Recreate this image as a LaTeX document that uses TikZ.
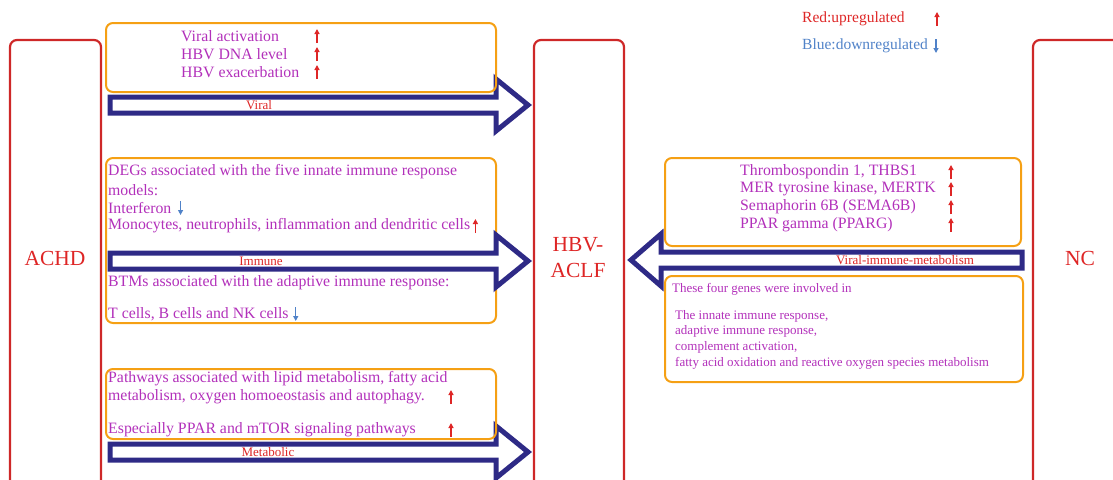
\documentclass[tikz,border=0pt]{standalone}
\usepackage{fontspec}
\setmainfont{Liberation Serif}
\usepackage{xcolor}
\usetikzlibrary{arrows.meta,positioning}
\definecolor{rojo}{RGB}{222,38,38}
\definecolor{caja}{RGB}{206,40,40}
\definecolor{naranja}{RGB}{245,160,20}
\definecolor{morado}{RGB}{178,48,186}
\definecolor{azul}{RGB}{80,130,200}
\definecolor{azulosc}{RGB}{46,42,134}
\tikzset{
  etapa/.style={draw=caja,line width=2.2pt,rounded corners=7pt},
  grupo/.style={draw=naranja,line width=2pt,rounded corners=7pt},
  flecha/.style={draw=azulosc,line width=5pt,fill=white,line join=miter},
  txt/.style={anchor=west,text=morado,font=\fontsize{15.8}{18}\selectfont,inner sep=0pt},
  chico/.style={anchor=west,text=morado,font=\fontsize{13}{15}\selectfont,inner sep=0pt},
  rot/.style={text=rojo,font=\fontsize{13}{15}\selectfont,inner sep=0pt},
  grande/.style={text=rojo,font=\fontsize{21.5}{25}\selectfont,inner sep=0pt},
  ley/.style={anchor=west,font=\fontsize{15.5}{18}\selectfont,inner sep=0pt},
  sube/.style={-{Triangle[length=5pt,width=5pt]},rojo,line width=1.4pt},
  baja/.style={-{Triangle[length=5pt,width=5pt]},azul,line width=1.4pt}
}
% flecha de bloque: x inicial, x base punta, x punta, y centro
\newcommand{\bloque}[4]{%
  \draw[flecha] (#1,#4-8) -- (#2,#4-8) -- (#2,#4-26) -- (#3,#4)
    -- (#2,#4+26) -- (#2,#4+8) -- (#1,#4+8) -- cycle;}
\newcommand{\subida}[2]{\draw[sube] (#1,#2+7) -- (#1,#2-7);}
\begin{document}
\begin{tikzpicture}[x=1pt,y=-1pt]
\useasboundingbox (0,0) rectangle (1113,479);
\clip (0,0) rectangle (1113,479);
% etapas
\draw[etapa] (10,40) rectangle (101,500);
\draw[etapa] (534,40) rectangle (624,500);
\draw[etapa] (1033,40) rectangle (1140,500);
\node[grande] (achd) at (55,258) {ACHD};
\node[grande] (hbv) at (578,245) {HBV-};
\node[grande] (aclf) at (578,270) {ACLF};
\node[grande] (nc) at (1080,258) {NC};
% leyenda
\node[ley,text=rojo] (leyr) at (802,19) {Red:upregulated};
\node[ley,text=azul] (leyb) at (802,46) {Blue:downregulated};
\subida{937}{19}
\draw[baja] (936,39) -- (936,53);
% viral
\bloque{110}{496}{528}{105}
\draw[grupo] (106,23) rectangle (496,92);
\node[txt] (v1) at (181,36) {Viral activation};
\node[txt] (v2) at (181,54) {HBV DNA level};
\node[txt] (v3) at (181,72) {HBV exacerbation};
\subida{317}{36}
\subida{317}{54}
\subida{317}{72}
\node[rot] (lviral) at (259,105) {Viral};
% inmune
\draw[grupo] (106,158) rectangle (496,323);
\bloque{110}{496}{528}{261}
\node[txt] (i1) at (108,172) {DEGs associated with the five innate immune response};
\node[txt] (i2) at (108,190) {models:};
\node[txt] (i3) at (108,208) {Interferon};
\node[txt] (i4) at (108,226) {Monocytes, neutrophils, inflammation and dendritic cells};
\node[txt] (i5) at (108,283) {BTMs associated with the adaptive immune response:};
\node[txt] (i6) at (108,314) {T cells, B cells and NK cells};
\draw[baja] ([xshift=9pt,yshift=7pt]i3.east) -- ([xshift=9pt,yshift=-7pt]i3.east);
\draw[sube] ([xshift=5pt,yshift=-7pt]i4.east) -- ([xshift=5pt,yshift=7pt]i4.east);
\draw[baja] ([xshift=7pt,yshift=7pt]i6.east) -- ([xshift=7pt,yshift=-7pt]i6.east);
\node[rot] (limm) at (261,261) {Immune};
% metabolico
\bloque{110}{496}{528}{452}
\draw[grupo] (106,369) rectangle (496,439);
\node[txt] (m1) at (108,379) {Pathways associated with lipid metabolism, fatty acid};
\node[txt] (m2) at (108,397) {metabolism, oxygen homoeostasis and autophagy.};
\node[txt] (m3) at (108,430) {Especially PPAR and mTOR signaling pathways};
\subida{451}{397}
\subida{451}{430}
\node[rot] (lmet) at (268,452) {Metabolic};
% NC -> HBV-ACLF
\draw[flecha] (1022,252) -- (661,252) -- (661,234) -- (631,260)
  -- (661,286) -- (661,268) -- (1022,268) -- cycle;
\draw[grupo] (665,158) rectangle (1021,246);
\node[txt] (g1) at (740,172) {Thrombospondin 1, THBS1};
\node[txt] (g2) at (740,189) {MER tyrosine kinase, MERTK};
\node[txt] (g3) at (740,207) {Semaphorin 6B (SEMA6B)};
\node[txt] (g4) at (740,225) {PPAR gamma (PPARG)};
\subida{951}{172}
\subida{951}{189}
\subida{951}{207}
\subida{951}{225}
\node[rot] (lvim) at (905,260) {Viral-immune-metabolism};
\draw[grupo] (665,276) rectangle (1023,382);
\node[chico] (f0) at (672,289) {These four genes were involved in};
\node[chico] (f1) at (675,316) {The innate immune response,};
\node[chico] (f2) at (675,331) {adaptive immune response,};
\node[chico] (f3) at (675,347) {complement activation,};
\node[chico] (f4) at (675,363) {fatty acid oxidation and reactive oxygen species metabolism};
\end{tikzpicture}
\end{document}
